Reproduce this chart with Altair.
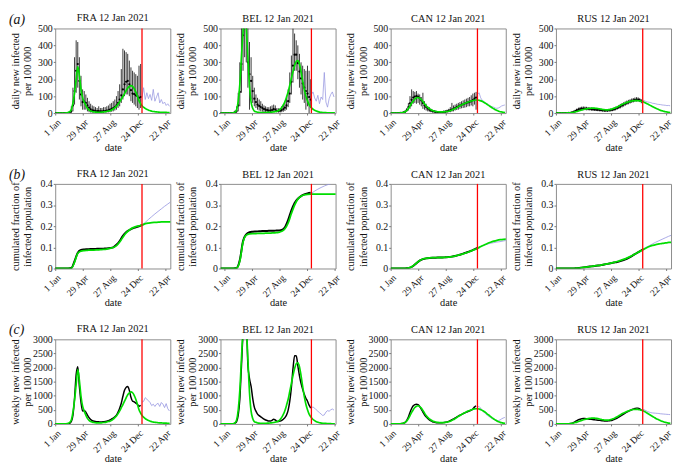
import altair as alt
import pandas as pd

# ---------------------------------------------------------------- layout text
COUNTRIES = ["FRA", "BEL", "CAN", "RUS"]
PANEL_DATE = "12 Jan 2021"
RED_DAY = 377                      # 12 Jan 2021, days since 1 Jan 2020
TICK_DAYS = [0, 119, 239, 358, 477]
TICK_LABELS = ["1 Jan", "29 Apr", "27 Aug", "24 Dec", "22 Apr"]
X_START = {"FRA": 0, "BEL": -18, "CAN": 0, "RUS": 0}
X_SPAN = 500
STEP_DAILY = 7
STEP_CUM = 14
DAYS_PER_WEEK = 7

ROW_LABELS = ["(a)", "(b)", "(c)"]
Y_TITLES = [["daily new infected", "per 100 000"],
            ["cumulated fraction of", "infected population"],
            ["weekly new infected", "per 100 000"]]
Y_DOMAINS = [[0, 500], [0, 0.4], [0, 3000]]
Y_TICKS = [[0, 100, 200, 300, 400, 500],
           [0, 0.1, 0.2, 0.3, 0.4],
           [0, 500, 1000, 1500, 2000, 2500, 3000]]

# ---------------------------------------------------------------- FRA
FRA_DAILY = [0,0,0,0,0,0,0,0,1,3,12,45,130,250,290,190,110,65,68,60,45,32,22,16,14,12,11,11,10,10,
             11,12,14,16,20,25,30,36,45,60,80,105,140,170,185,190,170,135,115,112,105,100,90,95]
FRA_DAILY_HI = [0,0,0,0,0,0,0,2,5,10,40,150,330,430,420,330,220,140,130,110,90,70,55,45,40,35,30,40,30,30,
                35,35,40,45,55,60,70,80,100,130,170,260,380,370,360,350,310,270,250,240,230,220,280,290]
FRA_DAILY_LO = [0,0,0,0,0,0,0,0,0,0,0,10,50,120,150,80,40,20,20,20,10,5,3,2,2,2,2,2,2,2,
                2,3,3,4,5,8,10,15,20,30,40,60,80,100,110,110,100,70,60,50,40,30,20,30]
FRA_MODEL = [0,0,0,0,0,0,0,1,3,8,20,60,120,200,275,220,140,90,65,45,28,18,12,9,7,6,5,5,5,6,
             7,8,10,12,14,18,24,32,40,52,66,82,98,115,132,148,157,162,158,145,125,100,72,55,42,33,26,21,17,14,
             11,9,8,7,6,5,5,4,4,4,3,3]
FRA_FORECAST = [95,150,80,120,85,110,75,140,70,95,120,60,80,55,65,45,55,40]
FRA_FORECAST_WEEKLY = [770,800,930,880,820,760,650,700,620,700,730,620,760,700,580,720,540,460]
FRA_CUM_DATA = [0,0,0,0,0,0.002,0.035,0.075,0.088,0.09,0.091,0.092,0.092,0.093,0.093,0.094,0.095,0.097,
                0.1,0.112,0.13,0.155,0.172,0.182,0.19,0.195,0.2,0.205]
FRA_CUM_MODEL = [0,0,0,0,0,0.001,0.03,0.072,0.082,0.085,0.086,0.087,0.087,0.088,0.089,0.09,0.092,0.095,
                 0.099,0.108,0.125,0.148,0.168,0.182,0.192,0.198,0.202,0.206,0.212,0.215,0.217,0.218,
                 0.219,0.22,0.22,0.22,0.22]
FRA_CUM_FORECAST = [0.205,0.218,0.232,0.245,0.258,0.27,0.282,0.294,0.305,0.316]

# ---------------------------------------------------------------- BEL
BEL_DAILY = [0,0,0,0,0,0,0,0,1,4,12,45,125,290,460,540,520,300,230,190,130,85,65,50,42,36,30,24,20,17,
             15,15,18,24,20,13,12,14,18,24,32,45,70,115,185,280,345,345,295,245,205,175,150,130,115,95,80]
BEL_DAILY_HI = [0,0,0,0,0,0,0,0,5,15,40,120,300,520,600,650,620,520,420,330,220,150,110,90,80,70,55,45,40,35,
                35,40,45,50,45,30,28,30,40,50,65,90,140,240,340,500,470,430,400,350,300,280,260,250,280,250,200]
BEL_DAILY_LO = [0,0,0,0,0,0,0,0,0,0,0,10,40,120,250,330,300,150,20,80,60,40,30,20,15,10,8,5,5,3,
                3,3,5,8,5,3,3,3,5,8,12,20,35,60,110,180,250,250,200,150,110,80,60,20,40,0,30]
BEL_MODEL = [0,0,0,0,0,0,0,0,1,5,20,70,170,330,480,560,500,330,160,65,28,12,8,5,4,3,3,3,3,
             4,4,5,6,7,9,11,15,22,33,48,68,95,125,165,205,245,280,305,310,
             290,245,190,140,100,72,50,36,26,19,14,10,7,5,4,3,3,2,2,2,1,1,1]
BEL_FORECAST = [110,125,90,70,105,55,95,80,240,65,35,85,110,125,95]
BEL_FORECAST_WEEKLY = [580,600,560,500,450,400,350,300,320,420,470,450,500,530,490]
BEL_CUM_DATA = [0,0,0,0,0,0.002,0.04,0.13,0.162,0.172,0.174,0.175,0.176,0.177,0.177,0.178,0.178,0.179,
                0.18,0.182,0.195,0.23,0.275,0.31,0.33,0.342,0.35,0.355,0.358]
BEL_CUM_MODEL = [0,0,0,0,0,0.002,0.035,0.125,0.158,0.164,0.165,0.165,0.166,0.166,0.167,0.167,0.168,0.169,
                 0.171,0.176,0.188,0.215,0.26,0.3,0.328,0.342,0.348,0.351,0.352,0.352,0.352,0.352,0.352,
                 0.352,0.352,0.352,0.352]
BEL_CUM_FORECAST = [0.355,0.366,0.375,0.383,0.39,0.396,0.401,0.406]

# ---------------------------------------------------------------- CAN
CAN_DAILY = [0,0,0,0,0,0,1,2,4,8,18,35,58,78,92,98,100,98,88,75,60,46,36,27,20,15,11,9,7,6,
             6,6,6,7,8,10,13,17,21,25,30,35,40,44,48,52,56,60,63,66,70,76,85,92]
CAN_DAILY_HI = [0,0,0,0,0,0,3,5,8,14,30,60,100,140,130,125,130,115,110,95,120,70,55,40,35,25,20,18,15,12,
                12,12,12,15,15,20,25,35,60,45,50,55,60,65,70,75,80,85,90,95,105,115,120,125]
CAN_DAILY_LO = [0,0,0,0,0,0,0,0,1,3,8,15,25,40,55,60,55,60,50,40,25,20,15,10,8,5,3,2,2,2,
                2,2,2,2,2,3,5,5,8,10,15,18,20,25,28,30,32,35,40,40,45,40,50,20]
CAN_MODEL = [0,0,0,0,0,0,1,2,4,8,15,27,42,58,72,83,90,92,88,80,68,55,43,33,26,20,15,12,9,8,
             7,7,7,7,8,9,11,14,18,22,27,32,38,43,48,53,57,61,65,68,71,74,76,77,77,75,72,68,63,57,
             50,44,37,31,25,20,15,11,8,6,4,3]
CAN_FORECAST = [110,120,90,75,70,60,55,50,42,38,35,30,28,30,35,42,45,48]
CAN_FORECAST_WEEKLY = [600,620,560,470,420,360,310,270,230,190,160,130,110,120,140,180,210,230]
CAN_CUM_DATA = [0,0,0,0,0,0.001,0.004,0.012,0.025,0.037,0.044,0.048,0.05,0.051,0.051,0.052,0.052,0.053,
                0.054,0.056,0.059,0.063,0.068,0.073,0.078,0.084,0.09,0.097]
CAN_CUM_MODEL = [0,0,0,0,0,0.001,0.004,0.013,0.026,0.038,0.045,0.048,0.05,0.051,0.051,0.052,0.052,0.053,
                 0.054,0.056,0.059,0.063,0.067,0.072,0.077,0.083,0.089,0.096,0.104,0.111,0.118,0.124,
                 0.129,0.133,0.136,0.138,0.139]
CAN_CUM_FORECAST = [0.097,0.104,0.11,0.115,0.119,0.122,0.125,0.127,0.13,0.133]

# ---------------------------------------------------------------- RUS
RUS_DAILY = [0,0,0,0,0,0,0,0,1,2,4,7,12,17,21,24,26,27,27,26,25,24,23,22,21,20,19,18,17,16,
             15,15,15,16,17,19,22,26,30,35,40,45,50,55,60,64,68,72,75,78,80,80,76,70]
RUS_DAILY_HI = [0,0,0,0,0,0,0,0,3,5,9,14,20,27,32,36,38,39,38,37,35,34,33,32,30,29,28,27,26,25,
                24,24,24,25,27,29,33,38,42,48,54,59,64,69,74,78,82,86,89,92,94,93,88,82]
RUS_DAILY_LO = [0,0,0,0,0,0,0,0,0,0,1,2,5,9,12,14,16,17,17,16,16,15,14,13,13,12,11,10,10,9,
                8,8,8,9,10,11,13,16,20,24,28,33,38,43,48,52,56,60,63,66,68,68,65,58]
RUS_MODEL = [0,0,0,0,0,0,0,1,1,2,3,5,7,9,12,15,18,21,23,25,27,28,29,29,29,28,27,25,23,21,
             20,19,19,20,22,25,28,32,36,41,46,51,55,59,63,66,69,71,73,74,74,73,72,70,67,63,58,53,48,43,
             38,33,28,24,20,16,13,10,8,6,4,3]
RUS_FORECAST = [72,74,68,66,64,62,58,57,55,52,51,50,48,47,46,44,45,43]
RUS_FORECAST_WEEKLY = [520,500,470,440,420,400,390,385,380,375,370,360,355,350,345,340,335,330]
RUS_CUM_DATA = [0,0,0,0,0,0,0.001,0.002,0.004,0.006,0.008,0.01,0.012,0.014,0.016,0.019,0.022,0.025,
                0.028,0.031,0.035,0.04,0.046,0.054,0.063,0.072,0.081,0.091]
RUS_CUM_MODEL = [0,0,0,0,0,0,0.001,0.002,0.004,0.006,0.008,0.01,0.012,0.014,0.016,0.019,0.022,0.025,
                 0.029,0.033,0.038,0.043,0.049,0.056,0.064,0.072,0.081,0.089,0.097,0.104,0.109,0.113,
                 0.116,0.119,0.121,0.123,0.124]
RUS_CUM_FORECAST = [0.091,0.1,0.108,0.116,0.124,0.131,0.138,0.145,0.152,0.158]

DATA = {
    "FRA": (FRA_DAILY, FRA_DAILY_HI, FRA_DAILY_LO, FRA_MODEL, FRA_FORECAST, FRA_FORECAST_WEEKLY,
            FRA_CUM_DATA, FRA_CUM_MODEL, FRA_CUM_FORECAST),
    "BEL": (BEL_DAILY, BEL_DAILY_HI, BEL_DAILY_LO, BEL_MODEL, BEL_FORECAST, BEL_FORECAST_WEEKLY,
            BEL_CUM_DATA, BEL_CUM_MODEL, BEL_CUM_FORECAST),
    "CAN": (CAN_DAILY, CAN_DAILY_HI, CAN_DAILY_LO, CAN_MODEL, CAN_FORECAST, CAN_FORECAST_WEEKLY,
            CAN_CUM_DATA, CAN_CUM_MODEL, CAN_CUM_FORECAST),
    "RUS": (RUS_DAILY, RUS_DAILY_HI, RUS_DAILY_LO, RUS_MODEL, RUS_FORECAST, RUS_FORECAST_WEEKLY,
            RUS_CUM_DATA, RUS_CUM_MODEL, RUS_CUM_FORECAST),
}

GREEN = "#00dd00"
BLUE = "#9494e0"
RED = "#ff0000"
FONT = "Liberation Serif"


def frame(values, start, step, scale=1):
    return pd.DataFrame({"day": [start + i * step for i in range(len(values))],
                         "v": [v * scale for v in values]})


label_expr = ""
for d, lab in zip(TICK_DAYS, TICK_LABELS):
    label_expr += f"datum.value == {d} ? '{lab}' : "
label_expr += "''"

x_axis = alt.Axis(values=TICK_DAYS, labelExpr=label_expr, labelAngle=315, labelFontSize=9.5,
                  labelFont=FONT, titleFont=FONT, titleFontSize=10.5,
                  labelPadding=2, tickSize=2, title="date", titlePadding=3,
                  minExtent=27, maxExtent=27, labelOverlap=False, labelFlush=False)


def y_axis(row):
    return alt.Axis(values=Y_TICKS[row], format=".1~f" if row == 1 else "d", title=Y_TITLES[row],
                    labelFont=FONT, titleFont=FONT, labelFontSize=10, titleFontSize=10.5,
                    titleLineHeight=12.5, minExtent=23, maxExtent=23, titlePadding=0,
                    labelPadding=1, tickSize=2, labelFlush=False, labelOverlap=False)


def panel(c, row, col):
    daily, hi, lo, model, fc, fc_w, cum_d, cum_m, cum_f = DATA[c]
    s = X_START[c]
    xscale = alt.Scale(domain=[s, s + X_SPAN], nice=False, zero=False)
    yscale = alt.Scale(domain=Y_DOMAINS[row], nice=False, zero=False)
    X = alt.X("day:Q", scale=xscale, axis=x_axis)
    Y = alt.Y("v:Q", scale=yscale, axis=y_axis(row))
    layers = []
    if row == 0:
        err = pd.DataFrame({"day": [s + i * STEP_DAILY for i in range(len(daily))],
                            "mid": daily, "lo": lo, "hi": hi})
        layers.append(alt.Chart(frame(fc, RED_DAY, STEP_DAILY)).mark_line(
            color=BLUE, strokeWidth=1, opacity=0.75, clip=True).encode(x=X, y=Y))
        layers.append(alt.Chart(err).mark_rule(color="#151515", strokeWidth=1, opacity=0.85, clip=True).encode(
            x=X, y=alt.Y("lo:Q", scale=yscale, axis=y_axis(row)), y2="hi:Q"))
        layers.append(alt.Chart(err).mark_circle(color="black", size=5, opacity=1, clip=True).encode(
            x=X, y=alt.Y("mid:Q", scale=yscale, axis=y_axis(row))))
        layers.append(alt.Chart(frame(model, s, STEP_DAILY)).mark_line(
            color=GREEN, strokeWidth=1.7, interpolate="monotone", clip=True).encode(x=X, y=Y))
    elif row == 1:
        layers.append(alt.Chart(frame(cum_f, RED_DAY, STEP_CUM)).mark_line(
            color=BLUE, strokeWidth=1, opacity=0.8, interpolate="monotone", clip=True).encode(x=X, y=Y))
        layers.append(alt.Chart(frame(cum_d, s, STEP_CUM)).mark_line(
            color="black", strokeWidth=2, interpolate="monotone", clip=True).encode(x=X, y=Y))
        layers.append(alt.Chart(frame(cum_m, s, STEP_CUM)).mark_line(
            color=GREEN, strokeWidth=1.8, interpolate="monotone", clip=True).encode(x=X, y=Y))
    else:
        layers.append(alt.Chart(frame(fc_w, RED_DAY, STEP_DAILY)).mark_line(
            color=BLUE, strokeWidth=1, opacity=0.8, clip=True).encode(x=X, y=Y))
        # weekly totals of the daily series (7 days per sample)
        layers.append(alt.Chart(frame(daily, s, STEP_DAILY, DAYS_PER_WEEK)).mark_line(
            color="black", strokeWidth=1.5, interpolate="monotone", clip=True).encode(x=X, y=Y))
        layers.append(alt.Chart(frame(model, s, STEP_DAILY, DAYS_PER_WEEK)).mark_line(
            color=GREEN, strokeWidth=1.7, interpolate="monotone", clip=True).encode(x=X, y=Y))
    layers.append(alt.Chart(pd.DataFrame({"day": [RED_DAY]})).mark_rule(
        color=RED, strokeWidth=1.3).encode(x=X))
    if col == 0:
        layers.append(alt.Chart(pd.DataFrame({"t": [ROW_LABELS[row]]})).mark_text(
            font=FONT, fontStyle="italic", fontSize=14, align="left", baseline="middle", color="#111"
        ).encode(text="t:N", x=alt.value(-47), y=alt.value(-9)))
        title = alt.TitleParams(f"{c} {PANEL_DATE}", offset=-11)
    else:
        title = alt.TitleParams(f"{c} {PANEL_DATE}", offset=-1)
    return alt.layer(*layers).properties(width=117, height=86, title=title)


panels = [panel(c, r, i) for r in range(3) for i, c in enumerate(COUNTRIES)]

chart = alt.concat(*panels, columns=4, spacing={"row": 14, "column": 3}).properties(
    padding={"left": 0, "top": 0, "right": 0, "bottom": 0}
).configure_view(stroke="#8c8c8c", strokeWidth=1).configure_axis(
    labelFont=FONT, titleFont=FONT, labelFontSize=10, titleFontSize=10.5, titleFontWeight="normal",
    labelColor="#111", titleColor="#111", tickColor="#777", grid=False, domain=False
).configure_title(font=FONT, fontSize=10.5, fontWeight="normal", color="#111")

chart.save("out.html", embed_options={"renderer": "svg", "actions": False})
